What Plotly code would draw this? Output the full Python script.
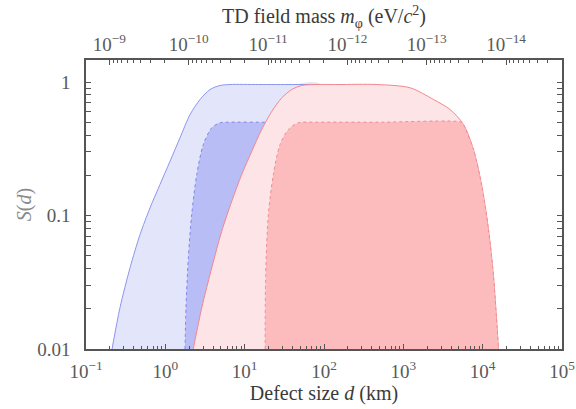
import numpy as np
import plotly.graph_objects as go

HBARC = 1.973e-10  # eV*km

# Boundary curves (d in km, S(d))
blue_outer_d = [0.213, 0.268, 0.359, 0.480, 0.641, 0.857, 1.146, 1.53, 2.05, 2.74, 3.66, 4.89, 6.55, 15, 40, 90]
blue_outer_s = [0.01, 0.0204, 0.0406, 0.0721, 0.114, 0.171, 0.255, 0.382, 0.571, 0.740, 0.879, 0.942, 0.958, 0.958, 0.958, 0.958]

blue_inner_d = [1.77, 1.82, 1.95, 2.15, 2.49, 3.01, 3.85, 4.89, 6.55, 20, 60]
blue_inner_s = [0.01, 0.0204, 0.0482, 0.102, 0.203, 0.340, 0.454, 0.495, 0.50, 0.50, 0.50]

red_outer_d = [2.25, 2.88, 3.85, 5.14, 6.88, 9.19, 12.3, 16.4, 22.0, 29.4, 39.3, 52.5, 77.3, 150, 463,
               1219, 2399, 3890, 5727, 7656, 9770, 11830, 13680, 15810]
red_outer_s = [0.01, 0.0204, 0.0406, 0.0763, 0.128, 0.203, 0.303, 0.441, 0.604, 0.762, 0.879, 0.942, 0.958,
               0.958, 0.958, 0.905, 0.740, 0.622, 0.481, 0.312, 0.166, 0.0785, 0.0351, 0.01]

red_inner_d = [18.1, 18.4, 19.9, 23.0, 27.9, 35.6, 47.5, 77.3, 500, 5460, 5727, 7656, 9770, 11830, 13680, 15810]
red_inner_s = [0.01, 0.0361, 0.102, 0.203, 0.340, 0.441, 0.495, 0.50, 0.50, 0.50, 0.481, 0.312, 0.166, 0.0785, 0.0351, 0.01]

x_ticks = [0.1, 1, 10, 100, 1000, 1e4, 1e5]
x_ticktext = ["10<sup>−1</sup>", "10<sup>0</sup>", "10<sup>1</sup>", "10<sup>2</sup>",
              "10<sup>3</sup>", "10<sup>4</sup>", "10<sup>5</sup>"]
m_ticks = [1e-9, 1e-10, 1e-11, 1e-12, 1e-13, 1e-14]
m_ticktext = ["10<sup>−9</sup>", "10<sup>−10</sup>", "10<sup>−11</sup>", "10<sup>−12</sup>",
              "10<sup>−13</sup>", "10<sup>−14</sup>"]
y_ticks = [0.01, 0.1, 1]
y_ticktext = ["0.01", "0.1", "1"]

BOTTOM = 0.0099

def closed(d, s):
    xs = [d[0]] + list(d) + [d[-1]]
    ys = [BOTTOM] + list(s) + [BOTTOM]
    return xs, ys

fig = go.Figure()

styles = [
    (blue_outer_d, blue_outer_s, "#e3e6fb", "#8e95ee", "solid"),
    (blue_inner_d, blue_inner_s, "#b9bdf5", "#7f86e8", "dot"),
    (red_outer_d, red_outer_s, "#fde5e7", "#f3868c", "solid"),
    (red_inner_d, red_inner_s, "#fcbcbe", "#ef8c90", "dot"),
]
SM = 0.8
for d, s, fillc, linec, dash in styles:
    xs, ys = closed(d, s)
    fig.add_trace(go.Scatter(x=xs, y=ys, mode="lines", fill="toself", fillcolor=fillc,
                             line=dict(width=0, color=fillc, shape="spline", smoothing=SM),
                             hoverinfo="skip", showlegend=False))
    fig.add_trace(go.Scatter(x=d, y=s, mode="lines", line=dict(color=linec, width=1, dash=dash,
                             shape="spline", smoothing=SM),
                             hoverinfo="skip", showlegend=False))

# invisible trace for top axis
fig.add_trace(go.Scatter(x=[HBARC / 1.0, HBARC / 1e4], y=[0.1, 0.1], xaxis="x2", mode="markers",
                         marker=dict(opacity=0), hoverinfo="skip", showlegend=False))

FONT = "Liberation Serif"
TXT = "#3a3a3a"
TICK = "#5a5a5a"
AX = "#555555"

minor_x = [k * 10.0 ** n for n in range(-1, 5) for k in range(2, 10)]
minor_m = [k * 10.0 ** n for n in range(-15, -8) for k in range(2, 10)]
minor_y = [k * 10.0 ** n for n in range(-2, 1) for k in range(2, 10)]

fig.update_layout(
    width=576, height=409,
    margin=dict(l=86, r=14, t=60, b=60),
    paper_bgcolor="white", plot_bgcolor="white",
    font=dict(family=FONT, color=TXT, size=19),
    xaxis=dict(type="log", range=[-1, 5], showgrid=False, zeroline=False, automargin=False,
               showline=True, linecolor=AX, linewidth=1.5, mirror=False,
               tickmode="array", tickvals=x_ticks, ticktext=x_ticktext,
               ticks="inside", ticklen=5, tickcolor=AX, ticklabelstandoff=4,
               minor=dict(tickmode="array", tickvals=minor_x, ticks="inside", ticklen=3, tickcolor=AX),
               title=dict(text="Defect size <i>d</i> (km)", font=dict(size=20, family=FONT, color=TXT), standoff=1),
               tickfont=dict(size=19, family=FONT, color=TICK)),
    xaxis2=dict(type="log", overlaying="x", side="top", automargin=False,
                range=[np.log10(HBARC / 0.1), np.log10(HBARC / 1e5)],
                showgrid=False, zeroline=False, showline=True, linecolor=AX, linewidth=1.5,
                tickmode="array", tickvals=m_ticks, ticktext=m_ticktext,
                ticks="inside", ticklen=5, tickcolor=AX,
                minor=dict(tickmode="array", tickvals=minor_m, ticks="inside", ticklen=3, tickcolor=AX),
                title=dict(text="TD field mass <i>m</i><sub>φ</sub> (eV/<i>c</i><sup>2</sup>)",
                           font=dict(size=20, family=FONT, color=TXT), standoff=0),
                tickfont=dict(size=19, family=FONT, color=TICK)),
    yaxis=dict(type="log", range=[-2, 0.165], showgrid=False, zeroline=False, automargin=False,
               showline=True, linecolor=AX, linewidth=1.5, mirror="allticks",
               tickmode="array", tickvals=y_ticks, ticktext=y_ticktext,
               ticks="inside", ticklen=5, tickcolor=AX, ticklabelstandoff=10,
               minor=dict(tickmode="array", tickvals=minor_y, ticks="inside", ticklen=3, tickcolor=AX),
               title=dict(text="<i>S</i>(<i>d</i>)", font=dict(size=20, family=FONT, color="#8a8a8a"), standoff=0),
               tickfont=dict(size=19, family=FONT, color=TICK)),
)

fig.write_html("out.html")
